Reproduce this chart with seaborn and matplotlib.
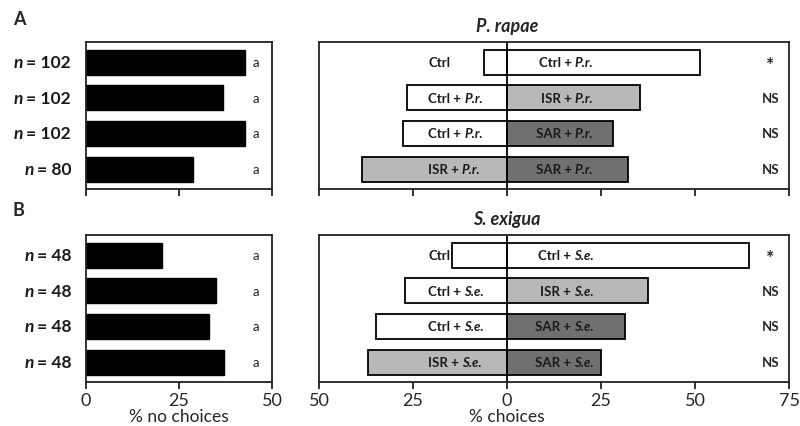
import pandas as pd
import seaborn as sns
import matplotlib.pyplot as plt

# Dados
linhas = ['0', '1', '2', '3']
n_rapae = ['102', '102', '102', '80']
n_exigua = ['48', '48', '48', '48']
sem_escolha_rapae = [42.7, 36.7, 42.7, 28.7]
sem_escolha_exigua = [20.5, 34.9, 33.1, 37.2]
letras = ['a', 'a', 'a', 'a']

esq_rapae = [6.1, 26.6, 27.7, 38.5]
dir_rapae = [51.2, 35.5, 28.2, 32.1]
esq_exigua = [14.6, 27.1, 34.9, 37.1]
dir_exigua = [64.4, 37.5, 31.3, 25.1]

trat_esq = ['Ctrl', 'Ctrl', 'Ctrl', 'ISR']
trat_dir = ['Ctrl', 'ISR', 'SAR', 'SAR']
signif = ['*', 'NS', 'NS', 'NS']

cores = {'Ctrl': '#ffffff', 'ISR': '#b8b8b8', 'SAR': '#707070'}

sns.set_style('white')
plt.rcParams['font.family'] = ['Lato', 'DejaVu Sans']

fig = plt.figure(figsize=(8, 4.27), dpi=100, facecolor='white')
ax_a1 = fig.add_axes([0.1075, 0.555, 0.2325, 0.344])
ax_a2 = fig.add_axes([0.39875, 0.555, 0.5875, 0.344])
ax_b1 = fig.add_axes([0.1075, 0.103, 0.2325, 0.344])
ax_b2 = fig.add_axes([0.39875, 0.103, 0.5875, 0.344])


# Texto com partes normais e em italico (negrito), encadeado
def texto_misto(ax, x, y, partes, ha, transform, fontsize):
    gap = 2.2
    if ha == 'left':
        s, it = partes[0]
        prev = ax.text(x, y, s, ha='left', va='center', fontsize=fontsize, fontweight='bold',
                       fontstyle='italic' if it else 'normal', transform=transform, color='#1a1a1a')
        for s, it in partes[1:]:
            prev = ax.annotate(s, xy=(1, 0), xycoords=prev, xytext=(gap, 0), textcoords='offset points',
                               ha='left', va='bottom', fontsize=fontsize, fontweight='bold',
                               fontstyle='italic' if it else 'normal', color='#1a1a1a')
    else:
        s, it = partes[-1]
        prev = ax.text(x, y, s, ha='right', va='center', fontsize=fontsize, fontweight='bold',
                       fontstyle='italic' if it else 'normal', transform=transform, color='#1a1a1a')
        for s, it in reversed(partes[:-1]):
            prev = ax.annotate(s, xy=(0, 0), xycoords=prev, xytext=(-gap, 0), textcoords='offset points',
                               ha='right', va='bottom', fontsize=fontsize, fontweight='bold',
                               fontstyle='italic' if it else 'normal', color='#1a1a1a')


def estilo(ax, xlim, ticks):
    ax.set_xlim(*xlim)
    ax.set_ylim(3.56, -0.56)
    ax.set_xticks(ticks)
    for s in ax.spines.values():
        s.set_visible(True)
        s.set_linewidth(1.3)
        s.set_color('#222222')
    ax.tick_params(axis='x', bottom=True, direction='out', length=5, width=1.3, color='#222222',
                   labelsize=13, pad=2)
    ax.tick_params(axis='y', left=False, length=0)
    ax.set_ylabel('')
    ax.set_xlabel('')


def painel_sem_escolha(ax, valores, ns, mostrar_rotulos):
    df = pd.DataFrame({'linha': linhas, 'valor': valores})
    sns.barplot(data=df, x='valor', y='linha', order=linhas, orient='h', color='black',
                width=0.7, edgecolor='black', saturation=1, errorbar=None, ax=ax)
    estilo(ax, (0, 50), [0, 25, 50])
    ax.set_yticks([])
    for i, n in enumerate(ns):
        texto_misto(ax, -0.08, i, [('n', True), ('= ' + n, False)], 'right',
                    ax.get_yaxis_transform(), 12.5)
    for i, l in enumerate(letras):
        ax.text(45.7, i, l, ha='center', va='center', fontsize=9.5, color='#222222')
    if mostrar_rotulos:
        ax.set_xlabel('% no choices', fontsize=12.5, labelpad=0)
    else:
        ax.set_xticklabels([])


def painel_escolha(ax, esq, dir_, abrev, titulo, mostrar_rotulos):
    df_esq = pd.DataFrame({'linha': linhas, 'valor': [-v for v in esq], 'trat': trat_esq})
    df_dir = pd.DataFrame({'linha': linhas, 'valor': dir_, 'trat': trat_dir})
    for df in (df_esq, df_dir):
        sns.barplot(data=df, x='valor', y='linha', order=linhas, hue='trat', palette=cores,
                    orient='h', dodge=False, width=0.7, edgecolor='black', linewidth=1.3,
                    saturation=1, errorbar=None, legend=False, ax=ax)
    estilo(ax, (-50, 75), [-50, -25, 0, 25, 50, 75])
    ax.set_yticks([])
    ax.axvline(0, color='black', lw=1.3)
    for i in range(4):
        if i == 0:
            partes_esq = [(trat_esq[i], False)]
        else:
            partes_esq = [(trat_esq[i] + ' +', False), (abrev, True)]
        texto_misto(ax, -21, i, partes_esq, 'left', ax.transData, 9.5)
        texto_misto(ax, 23, i, [(trat_dir[i] + ' +', False), (abrev, True)], 'right', ax.transData, 9.5)
        if signif[i] == '*':
            ax.text(70, i + 0.08, signif[i], ha='center', va='center', fontsize=14, fontweight='bold')
        else:
            ax.text(70, i, signif[i], ha='center', va='center', fontsize=9.5, fontweight='bold')
    ax.set_title(titulo, x=0.4, fontsize=13, fontweight='bold', fontstyle='italic', pad=8)
    if mostrar_rotulos:
        ax.set_xticklabels(['50', '25', '0', '25', '50', '75'])
        ax.set_xlabel('% choices', fontsize=12.5, labelpad=0)
        ax.xaxis.label.set_x(0.4)
    else:
        ax.set_xticklabels([])


painel_sem_escolha(ax_a1, sem_escolha_rapae, n_rapae, False)
painel_sem_escolha(ax_b1, sem_escolha_exigua, n_exigua, True)
painel_escolha(ax_a2, esq_rapae, dir_rapae, 'P.r.', 'P. rapae', False)
painel_escolha(ax_b2, esq_exigua, dir_exigua, 'S.e.', 'S. exigua', True)

fig.text(0.016, 0.955, 'A', fontsize=13, fontweight='bold', va='center')
fig.text(0.016, 0.508, 'B', fontsize=13, fontweight='bold', va='center')

plt.savefig('out.png', dpi=100)
plt.close()
